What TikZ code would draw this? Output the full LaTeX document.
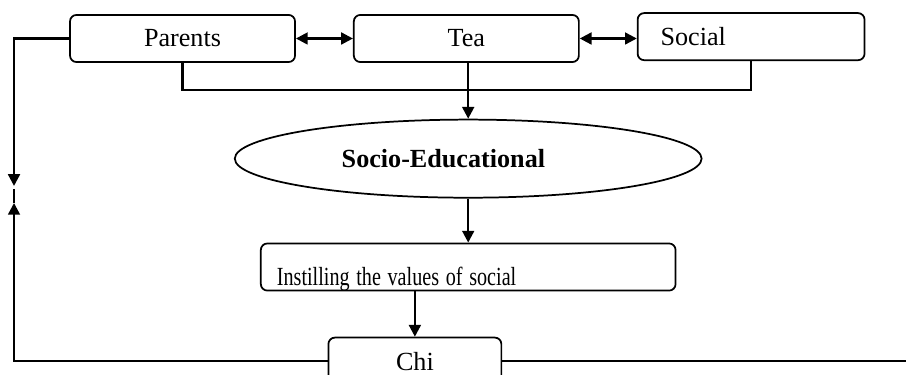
\documentclass[tikz,border=0pt]{standalone}
\usepackage{fontspec}
\usepackage{graphicx}
\setmainfont{Liberation Serif}
\usetikzlibrary{arrows.meta,calc,positioning,shapes.geometric}

\begin{document}
\begin{tikzpicture}[>={Triangle[length=1.9mm,width=1.9mm]},
  box/.style={draw, line width=0.8pt, rounded corners=3pt, minimum height=0.76cm, minimum width=3.63cm, font=\fontsize{12}{14}\selectfont},
  link/.style={line width=1.1pt},
  node distance=0.92cm]
  \useasboundingbox (0,0) rectangle (14.614,-6.033);
  \node[box] (par) at (2.944,-0.621) {Parents};
  \node[box, right=of par] (tea) {Tea};
  \node[box, right=of tea, yshift=0.03cm, minimum width=3.66cm, text width=2.92cm, inner xsep=0.37cm, align=left] (soc) {Social};
  \node[draw, ellipse, line width=0.8pt, minimum width=7.53cm, minimum height=1.26cm, inner sep=0pt,
    font=\fontsize{12}{14}\selectfont\bfseries, below=0.9cm of tea, xshift=0.03cm] (edu) {Socio-Educational\rule{0.8cm}{0pt}};
  \node[box, below=0.71cm of edu, text width=6.17cm, inner xsep=0.26cm, inner ysep=0.03cm,
    text height=0.63cm, text depth=0.05cm, align=left] (ins) {\scalebox{0.77}[1]{Instilling the values of social}};
  \node[box, below=0.73cm of ins, xshift=-0.86cm, minimum width=2.79cm] (chi) {Chi};
  \coordinate (bus) at (0,-1.452);
  \coordinate (dn) at (0.226,-3.0);
  \coordinate (up) at (0.226,-3.274);
  \coordinate (gap) at (0.226,-3.049);
  \coordinate (rgt) at (14.614,0);
  \draw[link, <->] (par) -- (tea);
  \draw[link, <->] (tea) -- (soc.west |- tea.east);
  \draw[link] (par.south) -- (par.south |- bus) -| (soc.south);
  \draw[link, ->] (tea.south -| edu.north) -- (edu.north);
  \draw[link, ->] (edu.south) -- (ins.north -| edu.south);
  \draw[link, ->] (ins.south -| chi.north) -- (chi.north);
  \draw[link, ->] (par.west) -| (dn);
  \draw[link, ->] (chi.west) -| (up);
  \draw[link] (up) -- (gap);
  \draw[link] (chi.east) -- (chi.east -| rgt);
\end{tikzpicture}
\end{document}
